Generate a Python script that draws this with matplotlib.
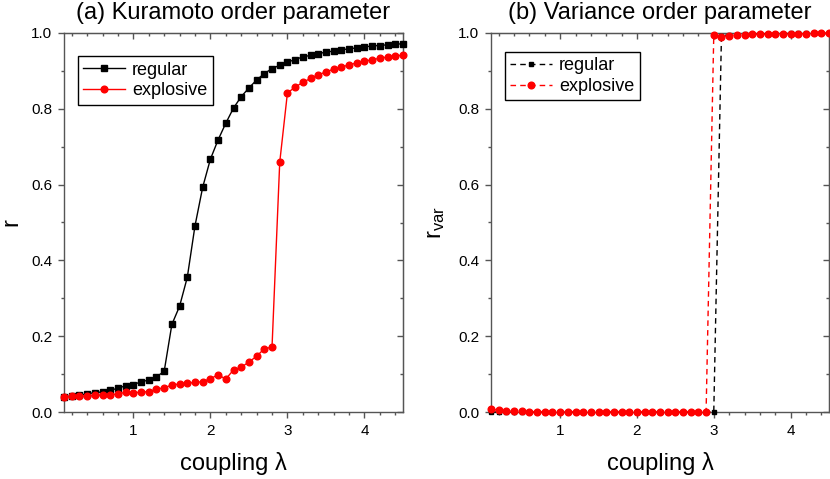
import matplotlib
matplotlib.use("Agg")
import matplotlib.pyplot as plt
from matplotlib.ticker import MultipleLocator
import numpy as np

plt.rcParams['font.family'] = ['Liberation Sans', 'DejaVu Sans']
plt.rcParams['mathtext.default'] = 'regular'

# coupling values 0.1 .. 4.5
lam = [round(0.1 * k, 1) for k in range(1, 46)]

# (a) Kuramoto order parameter
r_regular = [0.040, 0.042, 0.044, 0.048, 0.051, 0.053, 0.057, 0.063, 0.069, 0.072,
             0.080, 0.084, 0.093, 0.107, 0.231, 0.279, 0.355, 0.491, 0.593, 0.667,
             0.718, 0.762, 0.802, 0.832, 0.855, 0.876, 0.893, 0.906, 0.915, 0.923,
             0.930, 0.937, 0.941, 0.945, 0.950, 0.952, 0.956, 0.958, 0.961, 0.963,
             0.966, 0.967, 0.969, 0.970, 0.972]
r_explosive = [0.039, 0.041, 0.042, 0.042, 0.044, 0.045, 0.045, 0.048, 0.052, 0.051,
               0.052, 0.054, 0.060, 0.064, 0.071, 0.074, 0.076, 0.078, 0.080, 0.088,
               0.098, 0.087, 0.111, 0.118, 0.132, 0.147, 0.167, 0.171, 0.659, 0.842,
               0.857, 0.870, 0.880, 0.890, 0.897, 0.905, 0.910, 0.916, 0.921, 0.925,
               0.930, 0.933, 0.937, 0.939, 0.942]

# (b) variance order parameter
rvar_regular = [0.0] * 30 + [0.993, 0.995, 0.996, 0.997, 0.997, 0.998, 0.998, 0.998,
                             0.998, 0.999, 0.999, 0.999, 0.999, 0.999, 0.999]
rvar_explosive = [0.008, 0.004, 0.003, 0.002, 0.002, 0.001, 0.001, 0.001, 0.001, 0.001,
                  0.001, 0.001, 0.001, 0.001, 0.001, 0.001, 0.001, 0.001, 0.001, 0.001,
                  0.001, 0.001, 0.001, 0.001, 0.001, 0.001, 0.001, 0.001, 0.0, 0.995,
                  0.990, 0.993, 0.995, 0.996, 0.997, 0.997, 0.997, 0.998, 0.998, 0.998,
                  0.998, 0.998, 0.999, 0.999, 0.999]

spine_col = '#555555'

fig = plt.figure(figsize=(8.3, 4.79), dpi=100)
ax1 = fig.add_axes([64 / 830, 67 / 479, 339 / 830, 379 / 479])
ax2 = fig.add_axes([491 / 830, 67 / 479, 338 / 830, 379 / 479])


def style_axes(ax):
    ax.set_xlim(0.1, 4.5)
    ax.set_ylim(0.0, 1.0)
    ax.xaxis.set_major_locator(MultipleLocator(1))
    ax.xaxis.set_minor_locator(MultipleLocator(0.2))
    ax.yaxis.set_major_locator(MultipleLocator(0.2))
    ax.yaxis.set_minor_locator(MultipleLocator(0.1))
    ax.yaxis.set_major_formatter(matplotlib.ticker.FormatStrFormatter('%.1f'))
    for s in ax.spines.values():
        s.set_color(spine_col)
        s.set_linewidth(1.0)
    ax.tick_params(which='both', direction='out', color=spine_col, width=1.0,
                   labelsize=11, labelcolor='black')
    ax.tick_params(which='major', length=4.5, pad=4)
    ax.tick_params(which='minor', length=2.2)
    # mirrored ticks pointing inward on top and right
    top = ax.secondary_xaxis('top')
    top.xaxis.set_major_locator(MultipleLocator(1))
    top.xaxis.set_minor_locator(MultipleLocator(0.2))
    top.tick_params(which='both', direction='in', labeltop=False, color=spine_col, width=1.0)
    top.tick_params(which='major', length=4.5)
    top.tick_params(which='minor', length=2.2)
    top.spines['top'].set_color(spine_col)
    right = ax.secondary_yaxis('right')
    right.yaxis.set_major_locator(MultipleLocator(0.2))
    right.yaxis.set_minor_locator(MultipleLocator(0.1))
    right.tick_params(which='both', direction='in', labelright=False, color=spine_col, width=1.0)
    right.tick_params(which='major', length=4.5)
    right.tick_params(which='minor', length=2.2)
    right.spines['right'].set_color(spine_col)
    ax.set_xlabel('coupling λ', fontsize=17, labelpad=10)


# panel (a)
ax1.plot(lam, r_regular, color='black', marker='s', markersize=4.2, linewidth=1.0,
         label='regular', clip_on=False, zorder=3)
ax1.plot(lam, r_explosive, color='red', marker='o', markersize=4.8, linewidth=1.0,
         label='explosive', clip_on=False, zorder=3)
style_axes(ax1)
ax1.set_ylabel('r', fontsize=17, labelpad=6)
ax1.set_title('(a) Kuramoto order parameter', fontsize=17, pad=10)
leg1 = ax1.legend(loc='upper left', bbox_to_anchor=(0.041, 0.939), borderaxespad=0,
                  fontsize=13, fancybox=False, edgecolor='black', framealpha=1,
                  handlelength=2.3, handletextpad=0.4, borderpad=0.3, labelspacing=0.2)
leg1.get_frame().set_linewidth(1.0)

# panel (b)
ax2.plot(lam, rvar_regular, color='black', marker='s', markersize=3.5, linewidth=1.0,
         linestyle=(0, (4, 3)), label='regular', clip_on=False, zorder=3)
ax2.plot(lam, rvar_explosive, color='red', marker='o', markersize=4.8, linewidth=1.0,
         linestyle=(0, (4, 3)), label='explosive', clip_on=False, zorder=3)
style_axes(ax2)
ax2.set_ylabel('r$_{var}$', fontsize=17, labelpad=8)
ax2.set_title('(b) Variance order parameter', fontsize=17, pad=10)
leg2 = ax2.legend(loc='upper left', bbox_to_anchor=(0.041, 0.95), borderaxespad=0,
                  fontsize=13, fancybox=False, edgecolor='black', framealpha=1,
                  handlelength=2.3, handletextpad=0.4, borderpad=0.3, labelspacing=0.2)
leg2.get_frame().set_linewidth(1.0)

fig.savefig('out.png', dpi=100)
